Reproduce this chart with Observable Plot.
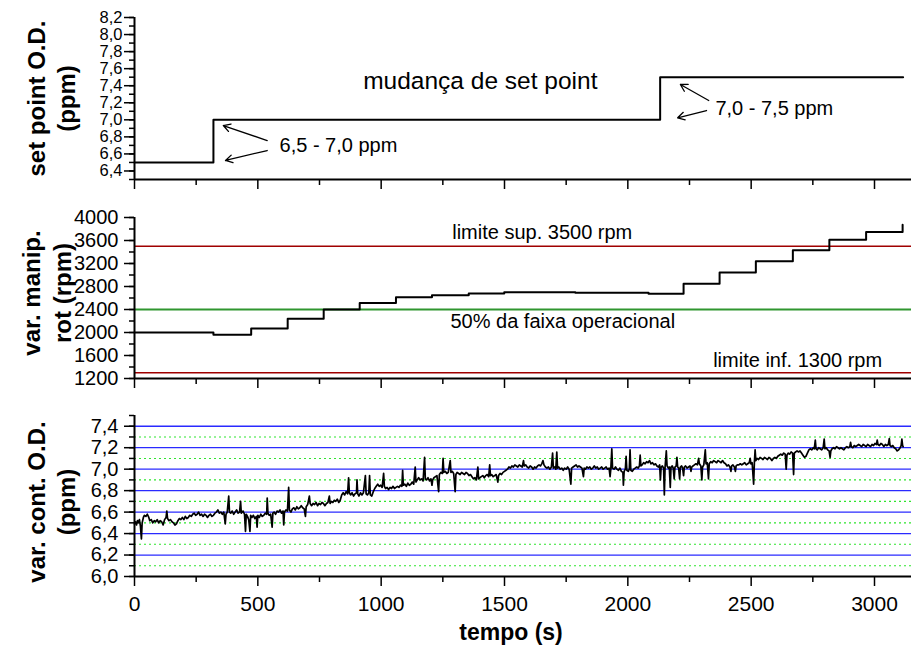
<!DOCTYPE html>
<html><head><meta charset="utf-8">
<script src="https://cdn.jsdelivr.net/npm/d3@7"></script>
<script src="https://cdn.jsdelivr.net/npm/@observablehq/plot@0.6"></script>
<style>
body{margin:0;background:#fff;}
#wrap{position:relative;width:911px;height:645px;overflow:hidden;}
#wrap > div{position:absolute;left:0;}
</style></head><body>
<div id="wrap"><div id="p1" style="top:0px"></div><div id="p2" style="top:198px"></div><div id="p3" style="top:396px"></div></div>
<script>
// ---------- data ----------
const xTicks = [0, 500, 1000, 1500, 2000, 2500, 3000];
const xDomain = [0, 3150];

// panel 1: set point
const spTicks = [6.4, 6.6, 6.8, 7.0, 7.2, 7.4, 7.6, 7.8, 8.0, 8.2];
const spDomain = [6.3, 8.2];
const spTime = [0, 320, 2131, 3116];
const spValue = [6.5, 7.0, 7.5, 7.5];
const spTitle = "mudança de set point";
const spTitlePos = {x: 1402, y: 7.454};
const spNotes = [
  {x: 588, y: 6.70, text: "6,5 - 7,0 ppm"},
  {x: 2355, y: 7.13, text: "7,0 - 7,5 ppm"}
];
const spArrows = [
  {x1: 538, y1: 6.757, x2: 360, y2: 6.933},
  {x1: 538, y1: 6.640, x2: 369, y2: 6.523},
  {x1: 2328, y1: 7.226, x2: 2213, y2: 7.414},
  {x1: 2319, y1: 7.109, x2: 2202, y2: 7.024}
];

// panel 2: manipulated variable (rpm)
const rpmTicks = [1200, 1600, 2000, 2400, 2800, 3200, 3600, 4000];
const rpmDomain = [1200, 4000];
const rpmTime  = [0, 320, 473, 621, 767, 913, 1060, 1206, 1355, 1499, 1787, 2084, 2226, 2372, 2519, 2669, 2817, 2966, 3114];
const rpmValue = [2000, 1960, 2070, 2240, 2400, 2515, 2615, 2650, 2680, 2700, 2690, 2675, 2850, 3045, 3240, 3430, 3615, 3750, 3875];
const rpmLimits = [3500, 1300];
const rpmMid = [2400];
const rpmNotes = [
  {x: 1288, y: 3736, text: "limite sup. 3500 rpm"},
  {x: 1281, y: 2198, text: "50% da faixa operacional"},
  {x: 2346, y: 1503, text: "limite inf. 1300 rpm"}
];

// panel 3: controlled variable O.D.
const odTicks = [6.0, 6.2, 6.4, 6.6, 6.8, 7.0, 7.2, 7.4];
const odDomain = [6.0, 7.5];
const odGridMajor = [6.2, 6.4, 6.6, 6.8, 7.0, 7.2, 7.4];
const odGridMinor = [6.1, 6.3, 6.5, 6.7, 6.9, 7.1, 7.3];
const odSeries = [[0,6.49],[4,6.51],[8,6.48],[12,6.52],[16,6.50],[20,6.53],[24,6.47],[28,6.35],[31,6.50],[36,6.55],[40,6.57],[46,6.56],[52,6.58],[58,6.55],[62,6.52],[68,6.53],[74,6.50],[80,6.52],[86,6.51],[92,6.53],[98,6.50],[104,6.52],[110,6.51],[116,6.48],[122,6.53],[128,6.55],[131,6.61],[134,6.54],[140,6.52],[146,6.53],[152,6.51],[158,6.50],[164,6.48],[170,6.49],[176,6.52],[182,6.54],[188,6.53],[194,6.55],[200,6.53],[206,6.56],[212,6.54],[218,6.55],[224,6.57],[230,6.56],[236,6.58],[242,6.59],[248,6.57],[254,6.58],[260,6.60],[266,6.57],[272,6.58],[278,6.56],[284,6.58],[290,6.57],[296,6.55],[302,6.57],[308,6.58],[314,6.56],[320,6.57],[326,6.59],[332,6.60],[338,6.62],[344,6.59],[350,6.60],[356,6.58],[362,6.60],[368,6.49],[371,6.58],[376,6.60],[382,6.75],[385,6.60],[390,6.59],[396,6.61],[402,6.58],[408,6.60],[414,6.62],[420,6.59],[426,6.60],[430,6.70],[433,6.59],[440,6.61],[446,6.58],[450,6.42],[453,6.58],[458,6.56],[463,6.53],[468,6.42],[471,6.57],[476,6.55],[482,6.57],[488,6.54],[494,6.56],[497,6.46],[500,6.57],[506,6.55],[512,6.58],[518,6.56],[524,6.57],[530,6.59],[536,6.58],[538,6.73],[541,6.59],[546,6.57],[552,6.58],[558,6.46],[561,6.59],[566,6.60],[572,6.58],[578,6.61],[584,6.60],[590,6.62],[596,6.59],[602,6.61],[605,6.48],[608,6.60],[614,6.62],[620,6.61],[625,6.83],[628,6.62],[634,6.60],[640,6.63],[646,6.64],[652,6.62],[658,6.65],[664,6.63],[670,6.64],[676,6.66],[682,6.64],[688,6.63],[693,6.56],[696,6.65],[702,6.67],[709,6.75],[712,6.68],[718,6.66],[724,6.68],[730,6.67],[736,6.69],[742,6.66],[748,6.68],[754,6.67],[760,6.69],[766,6.68],[772,6.66],[778,6.68],[784,6.69],[790,6.75],[793,6.68],[798,6.70],[804,6.69],[810,6.71],[816,6.70],[822,6.72],[828,6.69],[834,6.71],[840,6.76],[846,6.78],[852,6.76],[858,6.79],[864,6.77],[868,6.92],[871,6.78],[876,6.76],[882,6.78],[888,6.75],[894,6.77],[900,6.78],[902,6.90],[905,6.77],[910,6.75],[916,6.78],[922,6.76],[928,6.78],[936,6.94],[939,6.77],[944,6.76],[950,6.78],[953,6.94],[956,6.76],[962,6.75],[968,6.79],[974,6.82],[980,6.84],[986,6.86],[992,6.84],[998,6.85],[1004,6.83],[1010,6.96],[1013,6.84],[1018,6.82],[1024,6.83],[1030,6.81],[1036,6.83],[1042,6.82],[1048,6.84],[1054,6.82],[1060,6.83],[1066,6.84],[1072,6.83],[1078,6.85],[1084,6.84],[1087,6.99],[1090,6.85],[1096,6.86],[1102,6.84],[1108,6.87],[1114,6.85],[1120,6.86],[1126,6.88],[1132,6.86],[1138,7.02],[1141,6.88],[1146,6.90],[1152,6.92],[1158,6.90],[1164,6.91],[1170,6.89],[1176,7.11],[1179,6.91],[1184,6.90],[1190,6.92],[1196,6.89],[1202,6.91],[1206,6.85],[1209,6.90],[1214,6.92],[1220,6.93],[1226,6.94],[1233,6.79],[1236,6.95],[1242,6.97],[1248,6.96],[1251,7.10],[1254,6.97],[1260,6.98],[1266,6.96],[1272,6.97],[1280,7.08],[1283,6.97],[1288,6.98],[1294,6.96],[1300,6.79],[1303,6.95],[1308,6.97],[1314,6.96],[1320,6.95],[1326,6.97],[1332,6.96],[1338,6.95],[1344,6.97],[1350,6.96],[1356,6.94],[1362,6.95],[1368,6.93],[1374,6.91],[1380,6.92],[1386,6.90],[1392,7.02],[1395,6.91],[1400,6.92],[1406,6.93],[1412,6.94],[1418,6.92],[1424,6.94],[1430,6.95],[1436,6.93],[1440,7.04],[1443,6.94],[1448,6.95],[1454,6.93],[1460,6.94],[1466,6.95],[1473,6.88],[1476,6.94],[1482,6.96],[1488,6.95],[1494,6.97],[1500,6.98],[1506,6.99],[1512,7.00],[1518,7.02],[1524,7.01],[1530,7.03],[1536,7.02],[1542,7.04],[1548,7.03],[1554,7.02],[1560,7.04],[1566,7.03],[1572,7.02],[1577,7.08],[1580,7.03],[1586,7.04],[1592,7.02],[1598,7.01],[1604,7.03],[1610,7.02],[1616,7.00],[1622,7.02],[1628,7.01],[1634,7.03],[1640,7.04],[1646,7.03],[1651,7.05],[1656,7.08],[1660,7.04],[1666,7.02],[1672,7.01],[1678,7.02],[1684,7.00],[1690,7.02],[1695,7.15],[1698,7.01],[1704,7.02],[1708,7.00],[1712,7.16],[1715,7.01],[1720,7.02],[1726,7.00],[1732,7.01],[1738,6.99],[1744,7.01],[1750,7.00],[1756,7.02],[1762,7.00],[1769,6.86],[1772,7.01],[1778,7.02],[1784,7.03],[1790,7.04],[1796,7.02],[1802,7.03],[1808,7.02],[1814,7.01],[1820,6.93],[1823,7.01],[1828,7.00],[1834,7.02],[1840,7.01],[1846,7.02],[1852,7.00],[1858,7.01],[1864,7.03],[1870,7.01],[1876,7.02],[1882,7.00],[1888,7.01],[1894,7.02],[1900,7.00],[1906,7.01],[1912,7.02],[1918,7.00],[1924,7.01],[1928,6.93],[1931,7.00],[1935,7.19],[1938,7.01],[1944,7.00],[1950,7.02],[1956,7.00],[1962,6.99],[1968,7.01],[1974,6.98],[1980,6.97],[1982,6.85],[1985,6.98],[1990,7.00],[1993,7.12],[1996,6.99],[2002,6.98],[2006,7.00],[2009,7.18],[2012,6.99],[2018,6.98],[2024,7.00],[2030,7.01],[2036,7.02],[2042,7.01],[2047,7.03],[2050,7.13],[2053,7.03],[2058,7.04],[2064,7.06],[2070,7.05],[2076,7.07],[2082,7.06],[2088,7.08],[2094,7.05],[2100,7.06],[2106,7.04],[2112,7.05],[2118,7.03],[2124,7.02],[2129,7.04],[2132,6.90],[2135,7.02],[2140,7.03],[2145,7.01],[2148,6.76],[2151,7.02],[2156,7.17],[2159,7.03],[2164,7.01],[2168,7.02],[2172,6.83],[2175,7.02],[2180,7.03],[2184,7.01],[2188,6.91],[2191,7.02],[2196,7.03],[2199,7.11],[2202,7.02],[2206,7.01],[2210,6.91],[2213,7.02],[2218,7.03],[2222,7.01],[2226,6.94],[2229,7.02],[2234,7.03],[2240,7.01],[2246,7.02],[2252,7.03],[2256,6.98],[2259,7.02],[2264,7.03],[2270,7.04],[2276,7.05],[2282,7.04],[2287,7.10],[2290,7.05],[2296,7.03],[2300,6.90],[2303,7.02],[2308,7.04],[2314,7.18],[2317,7.05],[2322,7.06],[2327,6.91],[2330,7.05],[2336,7.07],[2342,7.06],[2348,7.08],[2354,7.07],[2360,7.06],[2366,7.08],[2372,7.07],[2378,7.06],[2384,7.08],[2390,7.06],[2396,7.05],[2402,7.03],[2408,7.04],[2414,7.02],[2418,6.98],[2421,7.03],[2426,7.04],[2432,7.02],[2436,6.98],[2439,7.03],[2444,7.04],[2450,7.04],[2456,7.05],[2462,7.04],[2468,7.05],[2474,7.06],[2480,7.04],[2486,7.05],[2492,7.06],[2496,7.10],[2499,7.05],[2504,7.06],[2510,6.86],[2513,7.06],[2516,7.18],[2519,7.08],[2524,7.10],[2530,7.09],[2536,7.11],[2542,7.10],[2548,7.09],[2554,7.11],[2560,7.10],[2566,7.09],[2572,7.11],[2578,7.10],[2584,7.08],[2590,7.10],[2596,7.11],[2602,7.10],[2608,7.12],[2614,7.13],[2620,7.14],[2626,7.13],[2632,7.15],[2638,7.14],[2642,7.00],[2645,7.13],[2650,7.15],[2656,7.14],[2662,7.16],[2668,7.15],[2672,6.95],[2675,7.15],[2680,7.16],[2686,7.17],[2692,7.16],[2698,7.17],[2704,7.15],[2710,7.13],[2716,7.11],[2722,7.12],[2728,7.15],[2734,7.18],[2740,7.19],[2746,7.18],[2752,7.20],[2756,7.19],[2760,7.27],[2763,7.19],[2768,7.18],[2774,7.20],[2780,7.19],[2786,7.18],[2792,7.20],[2796,7.28],[2799,7.19],[2804,7.20],[2810,7.18],[2816,7.17],[2820,7.11],[2823,7.17],[2828,7.19],[2834,7.20],[2840,7.19],[2846,7.21],[2852,7.20],[2858,7.19],[2864,7.20],[2870,7.19],[2876,7.18],[2882,7.20],[2888,7.21],[2894,7.20],[2900,7.21],[2903,7.25],[2906,7.21],[2912,7.20],[2918,7.22],[2924,7.21],[2930,7.22],[2936,7.23],[2942,7.22],[2948,7.21],[2954,7.23],[2960,7.22],[2966,7.21],[2972,7.23],[2978,7.22],[2984,7.21],[2990,7.23],[2996,7.22],[3002,7.24],[3008,7.23],[3011,7.27],[3014,7.23],[3020,7.22],[3026,7.24],[3032,7.23],[3038,7.21],[3044,7.23],[3050,7.22],[3056,7.23],[3060,7.285],[3063,7.22],[3068,7.21],[3074,7.22],[3080,7.20],[3086,7.19],[3092,7.17],[3098,7.18],[3104,7.20],[3108,7.22],[3111,7.28],[3114,7.22],[3116,7.21]];

// labels
const yLabels = ["set point O.D.\n(ppm)", "var. manip.\nrot (rpm)", "var. cont. O.D.\n(ppm)"];
const xLabel = "tempo (s)";

// ---------- drawing ----------
const FONT = "'Liberation Sans', Arial, Helvetica, sans-serif";
const comma = d => d.toFixed(1).replace(".", ",");
const W = 911, ML = 134, MR = 0;
const baseStyle = {fontFamily: FONT, fontSize: "20px", color: "black", background: "white", overflow: "visible"};
const xMinor = d3.range(250, 3150, 500);

function xAxes(withLabels) {
  return [
    Plot.axisX({anchor: "bottom", ticks: xMinor, tickSize: 6, tickFormat: () => "", strokeWidth: 1.5, label: null}),
    Plot.axisX({anchor: "bottom", ticks: xTicks, tickSize: 10, tickPadding: 10, fontSize: 21, tickFormat: withLabels ? (d => String(d)) : (() => ""), strokeWidth: 1.5, label: null})
  ];
}
function yAxes(ticks, minor, fmt, pad, fs) {
  return [
    Plot.axisY({anchor: "left", ticks: minor, tickSize: 5, tickFormat: () => "", strokeWidth: 1.5, label: null}),
    Plot.axisY({anchor: "left", ticks: ticks, tickSize: 10, tickPadding: pad, fontSize: fs, tickFormat: fmt, strokeWidth: 1.5, label: null})
  ];
}
function yTitle(text, dx, dy, lh) {
  return Plot.text([text], {frameAnchor: "left", text: d => d, rotate: -90, dx: dx, dy: dy,
    lineHeight: lh, fontWeight: "bold", fontSize: 24, textAnchor: "middle", lineAnchor: "middle", fill: "black"});
}
function frameLines(yMin) {
  return [
    Plot.ruleX([0], {stroke: "black", strokeWidth: 2}),
    Plot.ruleY([yMin], {stroke: "black", strokeWidth: 2})
  ];
}

// Panel 1
const spData = spTime.map((t, i) => ({t, v: spValue[i]}));
const p1 = Plot.plot({
  width: W, height: 198, marginLeft: ML, marginRight: MR, marginTop: 17, marginBottom: 19,
  style: baseStyle,
  x: {domain: xDomain, axis: null},
  y: {domain: spDomain, axis: null},
  marks: [
    ...yAxes(spTicks, d3.range(6.3, 8.25, 0.1).map(d => +d.toFixed(1)), comma, 2, 16.5),
    ...xAxes(false),
    Plot.line(spData, {x: "t", y: "v", curve: "step-after", stroke: "black", strokeWidth: 2}),
    Plot.arrow(spArrows, {x1: "x1", y1: "y1", x2: "x2", y2: "y2", stroke: "black", strokeWidth: 1.3, headLength: 9}),
    Plot.text(spNotes, {x: "x", y: "y", text: "text", textAnchor: "start", fontSize: 20, fill: "black"}),
    Plot.text([spTitle], {x: () => spTitlePos.x, y: () => spTitlePos.y, text: d => d, textAnchor: "middle", fontSize: 24.5, fill: "black"}),
    ...frameLines(spDomain[0]),
    yTitle(yLabels[0], -84, 0, 1.25)
  ]
});
document.getElementById("p1").appendChild(p1);

// Panel 2
const rpmData = rpmTime.map((t, i) => ({t, v: rpmValue[i]}));
const p2 = Plot.plot({
  width: W, height: 198, marginLeft: ML, marginRight: MR, marginTop: 19, marginBottom: 18,
  style: baseStyle,
  x: {domain: xDomain, axis: null},
  y: {domain: rpmDomain, axis: null},
  marks: [
    Plot.ruleY(rpmLimits, {y: d => d, stroke: "#a00000", strokeWidth: 1.5}),
    Plot.ruleY(rpmMid, {y: d => d, stroke: "#2f962f", strokeWidth: 2}),
    ...yAxes(rpmTicks, d3.range(1200, 4001, 200), d => String(d), 6, 20),
    ...xAxes(false),
    Plot.line(rpmData, {x: "t", y: "v", curve: "step-after", stroke: "black", strokeWidth: 2}),
    Plot.text(rpmNotes, {x: "x", y: "y", text: "text", textAnchor: "start", fontSize: 20, fill: "black"}),
    ...frameLines(rpmDomain[0]),
    yTitle(yLabels[1], -89, -5, 1.3)
  ]
});
document.getElementById("p2").appendChild(p2);

// Panel 3
const p3 = Plot.plot({
  width: W, height: 249, marginLeft: ML, marginRight: MR, marginTop: 19, marginBottom: 69,
  style: baseStyle,
  x: {domain: xDomain, axis: null},
  y: {domain: odDomain, axis: null},
  marks: [
    Plot.ruleY(odGridMinor, {y: d => d, stroke: "#2ee62e", strokeWidth: 1.1, strokeDasharray: "2,3"}),
    Plot.ruleY(odGridMajor, {y: d => d, stroke: "#2a2aff", strokeWidth: 1.3}),
    ...yAxes(odTicks, d3.range(6.0, 7.55, 0.1).map(d => +d.toFixed(1)), comma, 6, 20),
    ...xAxes(true),
    Plot.line(odSeries, {x: d => d[0], y: d => d[1], stroke: "black", strokeWidth: 1.7}),
    ...frameLines(odDomain[0]),
    yTitle(yLabels[2], -84, 6, 1.25),
    Plot.text([xLabel], {frameAnchor: "bottom", text: d => d, dx: -12, dy: 56, lineAnchor: "middle", fontWeight: "bold", fontSize: 23, fill: "black"})
  ]
});
document.getElementById("p3").appendChild(p3);
</script>
</body></html>
